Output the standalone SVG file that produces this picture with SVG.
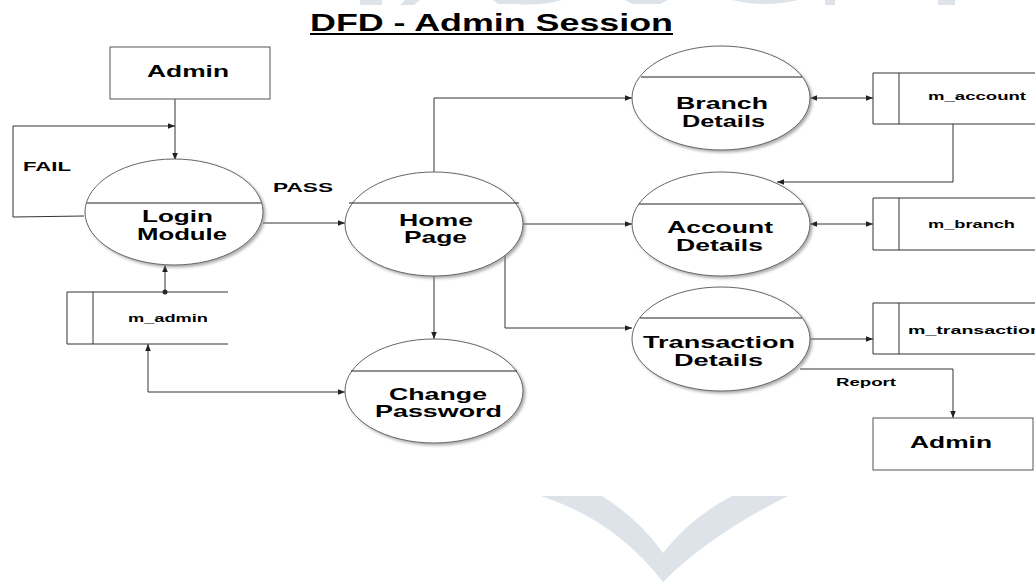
<svg xmlns="http://www.w3.org/2000/svg" width="1035" height="582" viewBox="0 0 1035 582">
<style>
text{font-family:"Liberation Sans",Arial,sans-serif;font-weight:bold;fill:#000}
.lbl{font-size:17px}
.st{font-size:10px}
.sm{font-size:12px}
.proc{fill:#fff;stroke:#666;stroke-width:1;filter:url(#sh)}
.div{stroke:#222;stroke-width:1}
.box{fill:#fff;stroke:#555;stroke-width:1}
.store{stroke:#333;stroke-width:1;fill:none}
.c{fill:none;stroke:#333;stroke-width:1}
.wm{fill:#dde3e8}
</style>
<defs>
<filter id="sh" x="-10%" y="-10%" width="125%" height="130%">
<feDropShadow dx="2" dy="2" stdDeviation="1.5" flood-color="#888" flood-opacity="0.7"/>
</filter>
<marker id="ah" viewBox="0 0 10 10" refX="10" refY="5" markerWidth="9" markerHeight="7" markerUnits="userSpaceOnUse" orient="auto-start-reverse">
<path d="M0,1 L10,5 L0,9 z" fill="#222"/>
</marker>
</defs>
<rect width="1035" height="582" fill="#fff"/>
<g id="watermark">
<path class="wm" d="M541,496 L602,496 Q640,520 663,553 Q690,518 732,496 L788,496 Q710,535 663,582 Q615,520 541,496 z"/>
<path class="wm" d="M360,0 L382,0 L382,5 L360,5 z M405,0 L420,0 L414,5 L400,5 z M493,0 L520,0 L520,4 L498,4 z M515,0 L562,0 Q540,6 515,4 z M625,0 L668,0 L660,4 L632,4 z M732,0 L798,0 Q765,8 732,0 z M825,0 L835,0 L835,5 L825,5 z M938,0 L955,0 L955,5 L938,5 z"/>
</g>
<g id="title">
<text x="310" y="31" font-size="24" textLength="363" lengthAdjust="spacingAndGlyphs">DFD - Admin Session</text>
<line x1="310" y1="34" x2="673" y2="34" stroke="#000" stroke-width="2"/>
</g>
<g id="connectors">
<path class="c" d="M175,99 L175,160" marker-end="url(#ah)"/>
<path class="c" d="M84,216 L13,217 L13,126 L175,126" marker-end="url(#ah)"/>
<path class="c" d="M263,223 L345,223" marker-end="url(#ah)"/>
<path class="c" d="M165,292 L165,265" marker-end="url(#ah)"/>
<circle cx="165" cy="292" r="2.5" fill="#222"/>
<path class="c" d="M148,344 L148,392 L345,392" marker-start="url(#ah)" marker-end="url(#ah)"/>
<path class="c" d="M434,276 L434,339" marker-end="url(#ah)"/>
<path class="c" d="M434,172 L434,98 L632,98" marker-end="url(#ah)"/>
<path class="c" d="M523,224 L632,224" marker-end="url(#ah)"/>
<path class="c" d="M505,255 L505,328 L632,328" marker-end="url(#ah)"/>
<path class="c" d="M810,98 L873,98" marker-start="url(#ah)" marker-end="url(#ah)"/>
<path class="c" d="M953,124 L953,182 L777,182" marker-end="url(#ah)"/>
<path class="c" d="M810,224 L873,224" marker-start="url(#ah)" marker-end="url(#ah)"/>
<path class="c" d="M810,339 L873,339" marker-end="url(#ah)"/>
<path class="c" d="M800,369 L953,369 L953,418" marker-end="url(#ah)"/>
<text class="sm" x="23" y="171" textLength="48" lengthAdjust="spacingAndGlyphs">FAIL</text>
<text class="sm" x="273" y="192" textLength="60" lengthAdjust="spacingAndGlyphs">PASS</text>
<text class="st" x="836" y="386" font-size="11" textLength="60" lengthAdjust="spacingAndGlyphs">Report</text>
</g>
<g id="admin-top">
<rect class="box" x="110" y="47" width="160" height="52"/>
<text class="lbl" x="147" y="77" textLength="82" lengthAdjust="spacingAndGlyphs">Admin</text>
</g>
<g id="login-module">
<ellipse class="proc" cx="174" cy="212" rx="89" ry="53"/>
<line class="div" x1="87" y1="203" x2="261" y2="203"/>
<text class="lbl" x="142" y="222" textLength="71" lengthAdjust="spacingAndGlyphs">Login</text>
<text class="lbl" x="137" y="240" textLength="90" lengthAdjust="spacingAndGlyphs">Module</text>
</g>
<g id="m_admin">
<path class="store" d="M228,292 L67,292 L67,344 L228,344 M93,292 L93,344"/>
<text class="st" x="128" y="322" textLength="80" lengthAdjust="spacingAndGlyphs">m_admin</text>
</g>
<g id="home-page">
<ellipse class="proc" cx="434" cy="224" rx="89" ry="52"/>
<line class="div" x1="349" y1="203" x2="519" y2="203"/>
<text class="lbl" x="399" y="226" textLength="74" lengthAdjust="spacingAndGlyphs">Home</text>
<text class="lbl" x="404" y="243" textLength="63" lengthAdjust="spacingAndGlyphs">Page</text>
</g>
<g id="change-password">
<ellipse class="proc" cx="434" cy="391" rx="89" ry="52"/>
<line class="div" x1="351" y1="371" x2="517" y2="371"/>
<text class="lbl" x="389" y="400" textLength="98" lengthAdjust="spacingAndGlyphs">Change</text>
<text class="lbl" x="375" y="417" textLength="127" lengthAdjust="spacingAndGlyphs">Password</text>
</g>
<g id="branch-details">
<ellipse class="proc" cx="721" cy="98" rx="89" ry="52"/>
<line class="div" x1="641" y1="77" x2="802" y2="77"/>
<text class="lbl" x="676" y="109" textLength="92" lengthAdjust="spacingAndGlyphs">Branch</text>
<text class="lbl" x="682" y="127" textLength="83" lengthAdjust="spacingAndGlyphs">Details</text>
</g>
<g id="account-details">
<ellipse class="proc" cx="721" cy="224" rx="89" ry="52"/>
<line class="div" x1="639" y1="204" x2="803" y2="204"/>
<text class="lbl" x="667" y="233" textLength="106" lengthAdjust="spacingAndGlyphs">Account</text>
<text class="lbl" x="676" y="251" textLength="87" lengthAdjust="spacingAndGlyphs">Details</text>
</g>
<g id="transaction-details">
<ellipse class="proc" cx="721" cy="339" rx="89" ry="52"/>
<line class="div" x1="640" y1="318" x2="802" y2="318"/>
<text class="lbl" x="643" y="348" textLength="152" lengthAdjust="spacingAndGlyphs">Transaction</text>
<text class="lbl" x="674" y="366" textLength="89" lengthAdjust="spacingAndGlyphs">Details</text>
</g>
<g id="m_account">
<path class="store" d="M1035,73 L873,73 L873,124 L1035,124 M899,73 L899,124"/>
<text class="st" x="928" y="100" textLength="98" lengthAdjust="spacingAndGlyphs">m_account</text>
</g>
<g id="m_branch">
<path class="store" d="M1035,198 L873,198 L873,250 L1035,250 M899,198 L899,250"/>
<text class="st" x="928" y="228" textLength="87" lengthAdjust="spacingAndGlyphs">m_branch</text>
</g>
<g id="m_transaction">
<path class="store" d="M1035,303 L873,303 L873,354 L1035,354 M899,303 L899,354"/>
<text class="st" x="908" y="334" textLength="134" lengthAdjust="spacingAndGlyphs">m_transaction</text>
</g>
<g id="admin-bottom">
<rect class="box" x="873" y="418" width="160" height="52"/>
<text class="lbl" x="910" y="448" textLength="82" lengthAdjust="spacingAndGlyphs">Admin</text>
</g>
</svg>
